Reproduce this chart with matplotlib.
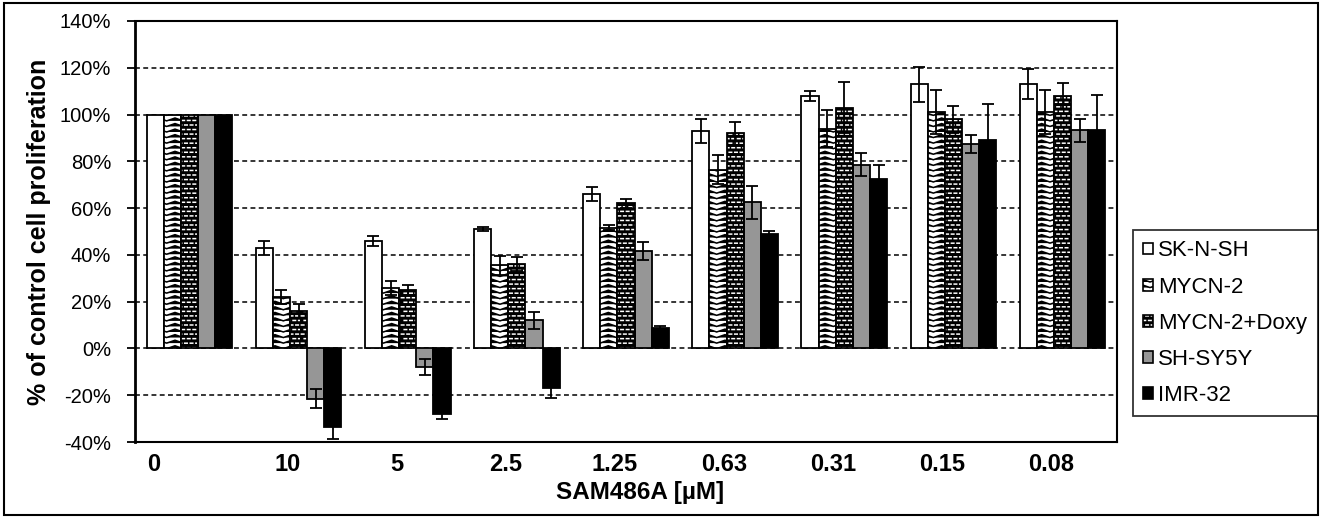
import warnings
import numpy as np
import matplotlib
matplotlib.use("Agg")
import matplotlib.pyplot as plt
import matplotlib.hatch as mhatch
from matplotlib.patches import Patch, Rectangle

warnings.simplefilter("ignore")

# ---------------- data ----------------
concentrations = ["0", "10", "5", "2.5", "1.25", "0.63", "0.31", "0.15", "0.08"]
series_names = ["SK-N-SH", "MYCN-2", "MYCN-2+Doxy", "SH-SY5Y", "IMR-32"]

sknsh      = [100, 43, 46, 51, 66, 93, 108, 113, 113]
sknsh_err  = [0, 3, 2, 1, 3, 5, 2, 7.5, 6.5]
mycn2      = [100, 22, 26, 35.5, 51.6, 76.5, 94, 101, 101]
mycn2_err  = [0, 3, 3, 4, 1, 6, 8, 9.5, 9.5]
doxy       = [100, 16, 25, 36, 62, 92, 103, 98, 108]
doxy_err   = [0, 3, 2, 3, 2, 5, 11, 5.7, 5.6]
shsy5y     = [100, -21.4, -8, 12, 41.6, 62.5, 78.6, 87.4, 93.3]
shsy5y_err = [0, 4, 3.5, 3.5, 4, 7, 5, 4, 5]
imr32      = [100, -33.5, -28, -17, 8.8, 49, 72.5, 89.3, 93.6]
imr32_err  = [0, 5, 2, 4, 1, 1, 6, 15, 14.6]

# ---------------- custom Excel-like pattern fills ----------------
class ZigzagHatch(mhatch.HatchPatternBase):
    def __init__(self, hatch, density):
        n = hatch.count('z')
        self.nx = 6 * n
        self.ny = 18 * n
        self.npts = 2 * self.nx + 1
        self.num_vertices = self.ny * self.npts if n else 0

    def set_vertices_and_codes(self, vertices, codes):
        amp = 0.26 / self.ny
        xs = np.linspace(0, 1, self.npts)
        offs = np.where(np.arange(self.npts) % 2 == 0, -amp, amp)
        for j in range(self.ny):
            y0 = (j + 0.5) / self.ny
            sl = slice(j * self.npts, (j + 1) * self.npts)
            vertices[sl, 0] = xs
            vertices[sl, 1] = y0 + offs
            codes[sl] = mhatch.Path.LINETO
            codes[j * self.npts] = mhatch.Path.MOVETO


class BrickDashHatch(mhatch.HatchPatternBase):
    def __init__(self, hatch, density):
        n = hatch.count('b')
        self.nx = 18 * n
        self.ny = 22 * n
        self.num_vertices = self.ny * self.nx * 2 if n else 0

    def set_vertices_and_codes(self, vertices, codes):
        w = 1.0 / self.nx
        k = 0
        for j in range(self.ny):
            y = (j + 0.5) / self.ny
            shift = 0.5 * w if j % 2 else 0.0
            for i in range(self.nx):
                x0 = (i * w + shift + 0.25 * w) % 1.0
                x1 = min(x0 + 0.45 * w, 1.0)
                vertices[k] = (x0, y)
                vertices[k + 1] = (x1, y)
                codes[k] = mhatch.Path.MOVETO
                codes[k + 1] = mhatch.Path.LINETO
                k += 2


mhatch._hatch_types.extend([ZigzagHatch, BrickDashHatch])
mhatch._validate_hatch_pattern = lambda h: None

# ---------------- style ----------------
plt.rcParams['font.family'] = ['Liberation Sans', 'DejaVu Sans']
plt.rcParams['hatch.linewidth'] = 1.1

fig = plt.figure(figsize=(13.22, 5.18), dpi=100)
ax = fig.add_axes([0.102, 0.1467, 0.743, 0.8128])

x = np.arange(len(concentrations))
bw = 0.157
vals = [sknsh, mycn2, doxy, shsy5y, imr32]
errs = [sknsh_err, mycn2_err, doxy_err, shsy5y_err, imr32_err]
edge_lw = 1.3

for k in range(5):
    xs = x + (k - 2) * bw
    v = np.array(vals[k], dtype=float)
    if k == 0:
        ax.bar(xs, v, bw, facecolor='white', edgecolor='black', linewidth=edge_lw, zorder=2)
    elif k == 1:
        ax.bar(xs, v, bw, facecolor='white', edgecolor='black', linewidth=edge_lw,
               hatch='z', zorder=2)
    elif k == 2:
        ax.bar(xs, v, bw, facecolor='black', edgecolor='white', linewidth=0,
               hatch='b', zorder=2)
        ax.bar(xs, v, bw, facecolor='none', edgecolor='black', linewidth=edge_lw, zorder=2.1)
    elif k == 3:
        ax.bar(xs, v, bw, facecolor='#969696', edgecolor='black', linewidth=edge_lw, zorder=2)
    else:
        ax.bar(xs, v, bw, facecolor='black', edgecolor='black', linewidth=edge_lw, zorder=2)
    e = np.array(errs[k], dtype=float)
    m = e > 0
    ax.errorbar(xs[m], v[m], yerr=e[m], fmt='none', ecolor='black', elinewidth=1.3,
                capsize=4, capthick=1.3, zorder=3)

ax.set_xlim(-0.5, len(concentrations) - 0.5)
ax.set_ylim(-40, 140)
yt = np.arange(-40, 141, 20)
ax.set_yticks(yt)
ax.set_yticklabels([f"{t}%" for t in yt], fontsize=14.5)
ax.tick_params(axis='y', direction='out', length=6, width=1.3, pad=11)

# tick label positions (layout only)
label_pos = x - 0.1
label_pos[0] = -0.33
ax.set_xticks(label_pos)
ax.set_xticklabels(concentrations, fontsize=17, fontweight='bold')
ax.tick_params(axis='x', length=0, pad=8)

for yv in yt[1:-1]:
    ax.axhline(yv, color='black', linewidth=1.1, linestyle=(0, (3.2, 2.2)), zorder=1)

for s in ax.spines.values():
    s.set_linewidth(1.5)
    s.set_color('black')
ax.spines['left'].set_linewidth(2)

ax.set_ylabel("% of control cell proliferation", fontsize=18, fontweight='bold', labelpad=6)
ax.set_xlabel("SAM486A [µM]", fontsize=17.5, fontweight='bold')
ax.xaxis.set_label_coords(0.514, -0.093)

# legend
handles = [
    Patch(facecolor='white', edgecolor='black', linewidth=1.2),
    Patch(facecolor='white', edgecolor='black', linewidth=1.2, hatch='z'),
    (Patch(facecolor='black', edgecolor='white', linewidth=0, hatch='b'),
     Patch(facecolor='none', edgecolor='black', linewidth=1.2)),
    Patch(facecolor='#969696', edgecolor='black', linewidth=1.2),
    Patch(facecolor='black', edgecolor='black', linewidth=1.2),
]
leg = fig.legend(handles, series_names, loc='upper left',
                 bbox_to_anchor=(0.857, 0.556), fontsize=16,
                 frameon=True, fancybox=False, edgecolor='black',
                 handlelength=0.45, handleheight=0.45, handletextpad=0.22,
                 labelspacing=0.68, borderpad=0.47, borderaxespad=0)
leg.get_frame().set_linewidth(1.3)

fig.patches.append(Rectangle((0.003, 0.006), 0.994, 0.988, transform=fig.transFigure,
                             fill=False, edgecolor='black', linewidth=1.5))

fig.savefig("out.png", dpi=100)
